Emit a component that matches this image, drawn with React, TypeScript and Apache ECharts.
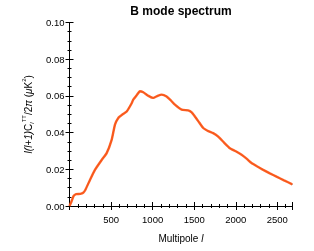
import React, { useEffect, useRef } from "react";
import * as echarts from "echarts";

const multipoles = [0, 20, 50, 80, 130, 165, 190, 246, 306, 387, 447, 507, 547, 587, 640, 688, 748, 767, 810, 847, 887, 950, 1007, 1060, 1108, 1168, 1220, 1268, 1349, 1428, 1470, 1508, 1560, 1608, 1660, 1728, 1789, 1860, 1929, 2000, 2070, 2130, 2190, 2260, 2330, 2410, 2490, 2580, 2680];
const bbPower = [0, 0.002, 0.0055, 0.0065, 0.0066, 0.0072, 0.0087, 0.0142, 0.0197, 0.0251, 0.0288, 0.036, 0.0443, 0.048, 0.05, 0.0515, 0.056, 0.058, 0.0605, 0.0625, 0.062, 0.06, 0.0589, 0.06, 0.0607, 0.0597, 0.0575, 0.0552, 0.0525, 0.0521, 0.051, 0.0488, 0.0455, 0.0425, 0.041, 0.0397, 0.0378, 0.0345, 0.0315, 0.0298, 0.0279, 0.0258, 0.0234, 0.0215, 0.0197, 0.0178, 0.016, 0.014, 0.0118];

const title = "B mode spectrum";

export default function App() {
  const ref = useRef<HTMLDivElement>(null);
  useEffect(() => {
    if (!ref.current) return;
    const chart = echarts.init(ref.current, null, { renderer: "svg" });
    const pts = multipoles.map((l, i) => [l, bbPower[i]]);
    const font = "Liberation Sans, Arial, Helvetica, sans-serif";
    const base = {
      axisLine: { show: true, lineStyle: { color: "#000", width: 1 } },
      axisTick: { show: true, inside: true, length: 4, lineStyle: { color: "#000" } },
      splitLine: { show: false },
    };
    const xMinor = { show: true, splitNumber: 5, length: 2, lineStyle: { color: "#000" } };
    const yMinor = { show: true, splitNumber: 4, length: 2, lineStyle: { color: "#000" } };
    chart.setOption({
      animation: false,
      title: {
        text: title,
        left: 181,
        top: 5,
        padding: 0,
        textAlign: "center",
        textStyle: { fontFamily: font, fontSize: 12, fontWeight: "bold", color: "#000" },
      },
      grid: { left: 69.5, right: 21.7, top: 22.5, bottom: 45 },
      xAxis: [
        {
          type: "value",
          min: 0,
          max: 2680,
          interval: 500,
          position: "bottom",
          ...base,
          minorTick: xMinor,
          axisLabel: {
            fontFamily: font,
            fontSize: 9.5,
            color: "#000",
            margin: 8,
            formatter: (v: number) => (v === 0 ? "" : String(v)),
          },
          name: "Multipole {i|l}",
          nameLocation: "middle",
          nameGap: 27,
          nameTextStyle: {
            fontFamily: font,
            fontSize: 10,
            color: "#000",
            rich: { i: { fontFamily: font, fontSize: 10, fontStyle: "italic", color: "#000" } },
          },
        },
        {
          type: "value",
          min: 0,
          max: 2680,
          interval: 500,
          position: "top",
          ...base,
          minorTick: xMinor,
          axisLabel: { show: false },
        },
      ],
      yAxis: [
        {
          type: "value",
          min: 0,
          max: 0.1,
          interval: 0.02,
          position: "left",
          ...base,
          minorTick: yMinor,
          axisLabel: {
            fontFamily: font,
            fontSize: 9.5,
            color: "#000",
            margin: 5,
            formatter: (v: number) => v.toFixed(2),
          },
          name: "{i|l(l+1)}C{sub|l}{sup|TT}/2{i|π} ({i|μ}K{sup|2})",
          nameLocation: "middle",
          nameGap: 31,
          nameRotate: 90,
          nameTextStyle: {
            fontFamily: font,
            fontSize: 10,
            color: "#000",
            lineHeight: 14,
            rich: {
              i: { fontFamily: font, fontSize: 10, fontStyle: "italic", color: "#000", lineHeight: 14 },
              sub: { fontFamily: font, fontSize: 6, fontStyle: "italic", color: "#000", verticalAlign: "bottom", lineHeight: 14 },
              sup: { fontFamily: font, fontSize: 6, color: "#000", verticalAlign: "top", lineHeight: 14 },
            },
          },
        },
        {
          type: "value",
          min: 0,
          max: 0.1,
          interval: 0.02,
          position: "right",
          ...base,
          minorTick: yMinor,
          axisLabel: { show: false },
        },
      ],
      series: [
        {
          type: "line",
          data: pts,
          smooth: 0.15,
          showSymbol: false,
          lineStyle: { color: "#000", width: 1 },
          z: 2,
        },
        {
          type: "line",
          data: pts,
          smooth: 0.15,
          showSymbol: false,
          lineStyle: { color: "#FF5A1A", width: 2.4, opacity: 0.95 },
          z: 3,
        },
      ],
    });
    return () => chart.dispose();
  }, []);
  return <div ref={ref} style={{ position: "fixed", left: 0, top: 0, width: 314, height: 251 }} />;
}
